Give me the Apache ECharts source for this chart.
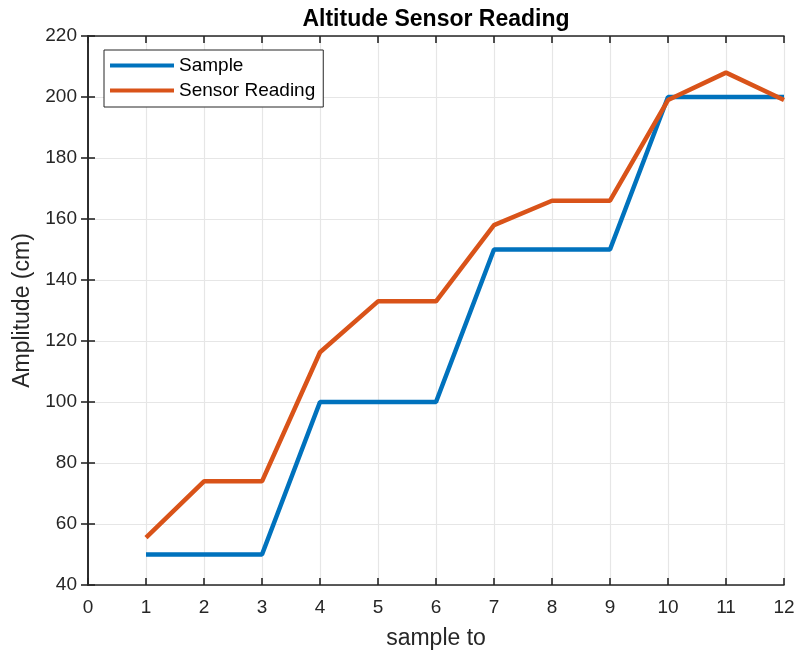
<!DOCTYPE html>
<html><head><meta charset="utf-8">
<script src="https://cdn.jsdelivr.net/npm/echarts@6/dist/echarts.min.js"></script>
<style>html,body{margin:0;padding:0;background:#fff}#c{width:797px;height:652px}</style>
</head><body><div id="c"></div>
<script>
var samples = [1,2,3,4,5,6,7,8,9,10,11,12];
var sampleValues = [50,50,50,100,100,100,150,150,150,200,200,200];
var sensorValues = [55.5,74,74,116.3,133,133,158,166,166,199,208,199];
var xTicks = {min:0,max:12,interval:1};
var yTicks = {min:40,max:220,interval:20};

var chart = echarts.init(document.getElementById('c'));
var font = 'Liberation Sans, Arial, sans-serif';
var axisColor = '#262626';
function pairs(v){return samples.map(function(x,i){return [x,v[i]];});}
var baseAxisLine = {show:true,lineStyle:{color:axisColor,width:1.6}};
var tick = {show:true,inside:true,length:7,lineStyle:{color:axisColor,width:1.6}};
chart.setOption({
  animation:false,
  backgroundColor:'#fff',
  title:{text:'Altitude Sensor Reading',left:431,textAlign:'center',top:3,
    textStyle:{fontFamily:font,fontSize:23,fontWeight:'bold',color:'#000'}},
  grid:{left:88,right:13,top:36,bottom:67,containLabel:false,outerBoundsMode:'none'},
  legend:{orient:'vertical',left:104,top:50,itemWidth:64,itemHeight:4,icon:'rect',itemGap:6,
    padding:[6,8,7,6],borderColor:axisColor,borderWidth:1,backgroundColor:'#fff',
    textStyle:{fontFamily:font,fontSize:19,color:'#000'},
    data:['Sample','Sensor Reading']},
  xAxis:[{type:'value',min:xTicks.min,max:xTicks.max,interval:xTicks.interval,
      name:'sample to',nameLocation:'middle',nameGap:42,
      nameTextStyle:{fontFamily:font,fontSize:23,color:axisColor},
      axisLine:baseAxisLine,axisTick:tick,
      axisLabel:{fontFamily:font,fontSize:19,color:axisColor,margin:13},
      splitLine:{show:true,lineStyle:{color:'#e6e6e6',width:1.2}}},
    {type:'value',position:'top',min:xTicks.min,max:xTicks.max,interval:xTicks.interval,
      axisLine:baseAxisLine,axisTick:tick,
      axisLabel:{show:false},splitLine:{show:false}}],
  yAxis:[{type:'value',min:yTicks.min,max:yTicks.max,interval:yTicks.interval,
      name:'Amplitude (cm)',nameLocation:'middle',nameGap:54,
      nameTextStyle:{fontFamily:font,fontSize:23,color:axisColor},
      axisLine:baseAxisLine,axisTick:tick,
      axisLabel:{fontFamily:font,fontSize:19,color:axisColor,margin:11},
      splitLine:{show:true,lineStyle:{color:'#e6e6e6',width:1.2}}},
    {type:'value',position:'right',min:yTicks.min,max:yTicks.max,interval:yTicks.interval,
      axisLine:baseAxisLine,axisTick:tick,
      axisLabel:{show:false},splitLine:{show:false}}],
  series:[
    {name:'Sample',type:'line',data:pairs(sampleValues),showSymbol:false,symbol:'none',
      lineStyle:{color:'#0072BD',width:4.5},itemStyle:{color:'#0072BD'},z:2},
    {name:'Sensor Reading',type:'line',data:pairs(sensorValues),showSymbol:false,symbol:'none',
      lineStyle:{color:'#D95319',width:4.5},itemStyle:{color:'#D95319'},z:3}
  ]
});
</script></body></html>
